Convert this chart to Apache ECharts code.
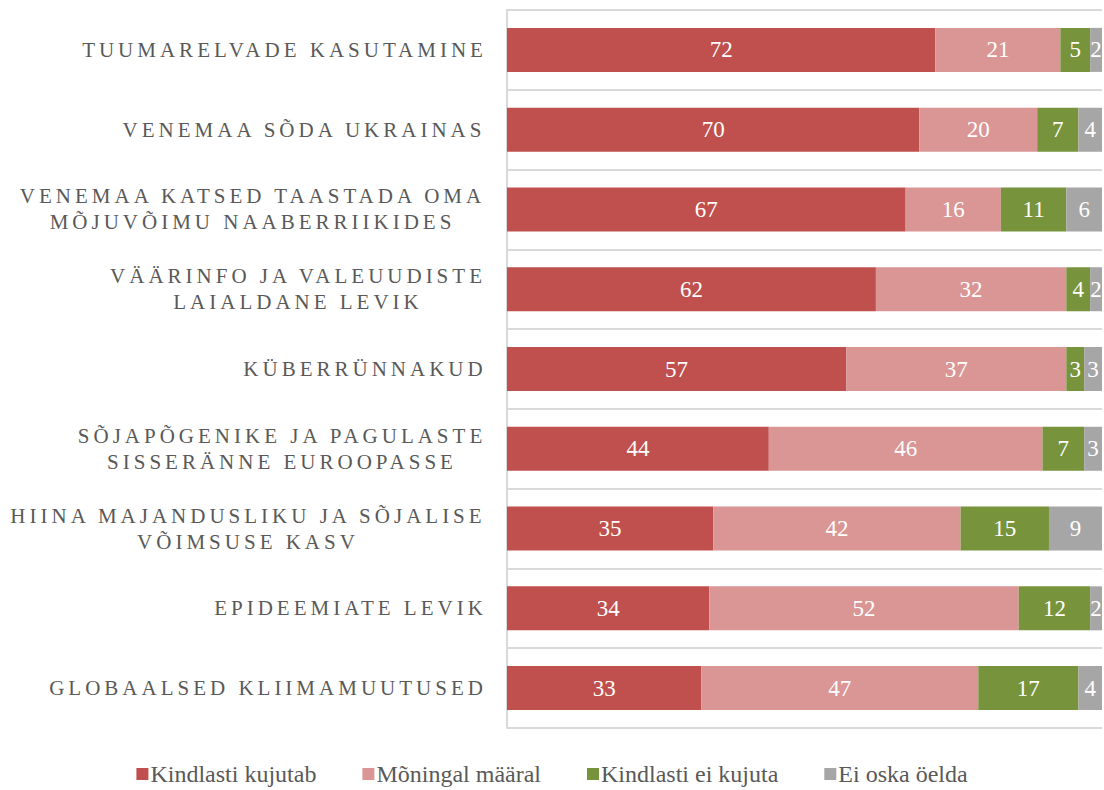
<!DOCTYPE html>
<html>
<head>
<meta charset="utf-8">
<script src="https://cdn.jsdelivr.net/npm/echarts@6/dist/echarts.min.js"></script>
<style>
  html, body { margin: 0; padding: 0; background: #fff; }
  #chart { width: 1104px; height: 790px; }
  /* spaced capitals for the category labels only */
  #chart text[style*=", serif"] { letter-spacing: 4px; }
</style>
</head>
<body>
<div id="chart"></div>
<script>
const categories = [
  'TUUMARELVADE KASUTAMINE',
  'VENEMAA SÕDA UKRAINAS',
  'VENEMAA KATSED TAASTADA OMA\nMÕJUVÕIMU NAABERRIIKIDES',
  'VÄÄRINFO JA VALEUUDISTE\nLAIALDANE LEVIK',
  'KÜBERRÜNNAKUD',
  'SÕJAPÕGENIKE JA PAGULASTE\nSISSERÄNNE EUROOPASSE',
  'HIINA MAJANDUSLIKU JA SÕJALISE\nVÕIMSUSE KASV',
  'EPIDEEMIATE LEVIK',
  'GLOBAALSED KLIIMAMUUTUSED'
]
const seriesNames = ['Kindlasti kujutab', 'Mõningal määral', 'Kindlasti ei kujuta', 'Ei oska öelda']
const kindlastiKujutab = [72, 70, 67, 62, 57, 44, 35, 34, 33]
const moningalMaaral = [21, 20, 16, 32, 37, 46, 42, 52, 47]
const kindlastiEiKujuta = [5, 7, 11, 4, 3, 7, 15, 12, 17]
const eiOskaOelda = [2, 4, 6, 2, 3, 3, 9, 2, 4]
const colors = ['#C0504D', '#D99694', '#77933C', '#A6A6A6']

const allValues = [kindlastiKujutab, moningalMaaral, kindlastiEiKujuta, eiOskaOelda]
// 100% stacked: each row is scaled to its own total
const totals = categories.map((_, i) => allValues.reduce((s, arr) => s + arr[i], 0))

// category labels: lines centred under each other, block right aligned
const LABEL_SIZE = 21
const SPACING = 4
const ctx = document.createElement('canvas').getContext('2d')
ctx.font = LABEL_SIZE + 'px Liberation Serif'
function lineWidth(s) {
  return ctx.measureText(s).width + s.length * SPACING
}
const rich = {}
categories.forEach((c, i) => {
  const w = Math.max(...c.split('\n').map(lineWidth))
  rich['c' + i] = {
    width: Math.ceil(w),
    align: 'center',
    fontFamily: 'Liberation Serif, serif',
    fontSize: LABEL_SIZE,
    color: '#595959',
    lineHeight: 26
  }
})

const myChart = echarts.init(document.getElementById('chart'), null, { renderer: 'svg' })

const option = {
  animation: false,
  textStyle: { fontFamily: 'Liberation Serif' },
  grid: { left: 507, right: 2, top: 10, bottom: 62 },
  xAxis: {
    type: 'value',
    min: 0,
    max: 100,
    show: false
  },
  yAxis: {
    type: 'category',
    inverse: true,
    data: categories,
    axisTick: { show: false },
    axisLine: { lineStyle: { color: '#d9d9d9', width: 2 } },
    splitLine: { show: true, lineStyle: { color: '#d9d9d9', width: 2 } },
    axisLabel: {
      interval: 0,
      margin: 20,
      formatter: function (value, index) {
        return value.split('\n').map(l => '{c' + index + '|' + l + '}').join('\n')
      },
      rich: rich
    }
  },
  legend: {
    top: 757,
    left: 'center',
    icon: 'rect',
    itemWidth: 12,
    itemHeight: 12,
    itemGap: 46,
    itemStyle: { borderWidth: 0 },
    textStyle: { fontFamily: 'Liberation Serif', fontSize: 24, color: '#595959', padding: [0, 0, 0, -3] },
    data: seriesNames
  },
  series: allValues.map((arr, s) => ({
    name: seriesNames[s],
    type: 'bar',
    stack: 'total',
    barWidth: 44,
    itemStyle: { color: colors[s] },
    emphasis: { disabled: true },
    label: {
      show: true,
      position: 'inside',
      color: '#fff',
      fontFamily: 'Liberation Serif',
      fontSize: 23,
      formatter: p => arr[p.dataIndex]
    },
    data: arr.map((v, i) => v / totals[i] * 100)
  }))
}

myChart.setOption(option)
</script>
</body>
</html>
